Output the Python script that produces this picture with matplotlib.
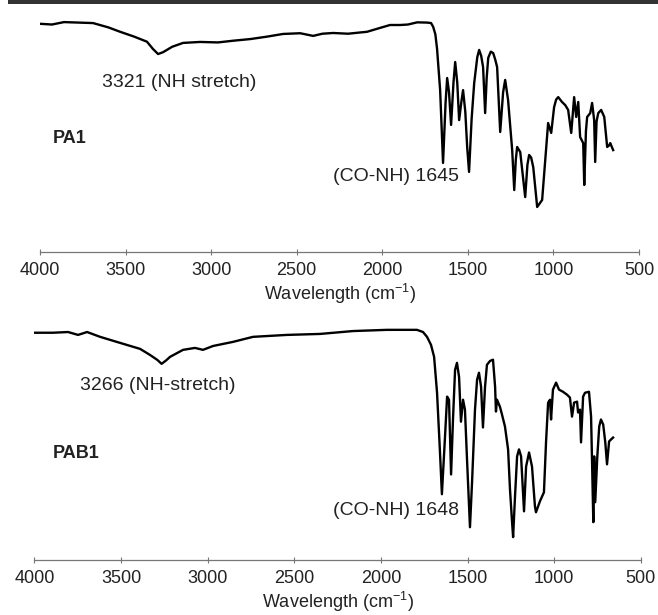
import matplotlib
matplotlib.use("Agg")
import matplotlib.pyplot as plt
from matplotlib.patches import Rectangle

plt.rcParams['font.family'] = ['Liberation Sans', 'DejaVu Sans']
plt.rcParams['mathtext.fontset'] = 'custom'
plt.rcParams['mathtext.rm'] = 'Liberation Sans'
plt.rcParams['mathtext.it'] = 'Liberation Sans:italic'

# PA1 spectrum (wavenumber, transmittance in arbitrary %)
pa1_wn = [4000, 3930, 3860, 3690, 3600, 3532, 3450, 3375, 3340, 3310, 3280, 3228,
          3164, 3065, 2960, 2872, 2770, 2673, 2580, 2480, 2404, 2350, 2287, 2200,
          2089, 2013, 1955, 1896, 1850, 1796, 1738, 1715, 1703, 1690, 1680, 1662,
          1645, 1630, 1621, 1610, 1598, 1584, 1574, 1562, 1551, 1538, 1528, 1515,
          1504, 1493, 1478, 1463, 1445, 1434, 1422, 1411, 1399, 1390, 1381, 1366,
          1352, 1340, 1329, 1311, 1294, 1282, 1265, 1241, 1229, 1220, 1212, 1194,
          1165, 1152, 1142, 1130, 1118, 1095, 1066, 1050, 1031, 1013, 996, 984, 972,
          950, 931, 914, 896, 879, 867, 855, 844, 826, 820, 810, 803, 785, 774, 762,
          756, 748, 738, 721, 703, 686, 675, 668, 651]
pa1_t = [94.3, 94.0, 95.0, 94.6, 92.8, 91.0, 89.0, 86.9, 83.9, 81.8, 82.6, 84.8,
         86.4, 86.8, 86.6, 87.3, 88.0, 89.0, 90.1, 90.4, 89.3, 90.2, 90.5, 90.2,
         91.0, 92.6, 93.8, 93.8, 94.0, 94.9, 94.8, 94.6, 93.1, 90.0, 84.0, 66.9,
         36.8, 62.0, 71.9, 66.0, 52.5, 70.0, 78.5, 70.0, 54.5, 62.0, 66.9, 58.0,
         43.4, 33.1, 55.0, 69.8, 80.5, 83.5, 81.0, 76.4, 57.4, 72.0, 80.2, 82.8,
         82.2, 79.5, 76.4, 49.6, 66.0, 71.1, 62.8, 42.1, 25.6, 38.0, 43.4, 41.3,
         22.7, 36.0, 40.1, 39.0, 35.1, 18.6, 21.5, 36.0, 53.3, 49.2, 59.9, 63.0, 64.0,
         62.0, 60.7, 58.7, 49.2, 64.0, 55.8, 62.0, 47.5, 45.0, 27.7, 50.0, 55.8, 57.4,
         61.6, 54.5, 37.2, 54.0, 57.4, 58.7, 55.8, 43.4, 44.0, 45.0, 42.1]

# PAB1 spectrum
pab1_wn = [3998, 3893, 3806, 3748, 3696, 3621, 3506, 3390, 3333, 3290, 3266, 3240,
           3217, 3142, 3073, 3027, 2969, 2854, 2738, 2542, 2352, 2161, 1965, 1890,
           1792, 1757, 1734, 1711, 1693, 1676, 1659, 1648, 1630, 1618, 1607, 1595,
           1584, 1572, 1561, 1549, 1538, 1526, 1515, 1503, 1486, 1474, 1457, 1445,
           1434, 1422, 1411, 1399, 1388, 1370, 1353, 1341, 1336, 1330, 1313, 1301,
           1284, 1266, 1255, 1243, 1237, 1226, 1214, 1203, 1191, 1174, 1162, 1145,
           1128, 1111, 1105, 1082, 1059, 1047, 1035, 1024, 1018, 1007, 989, 972, 949,
           926, 909, 897, 885, 868, 862, 851, 845, 833, 822, 799, 787, 782, 774, 769,
           763, 751, 740, 730, 717, 705, 695, 683, 672, 660]
pab1_t = [94.3, 94.3, 94.6, 93.4, 94.6, 92.6, 90.1, 87.6, 85.1, 83.0, 81.4, 82.8,
          84.3, 87.2, 88.0, 87.2, 88.8, 90.5, 92.6, 93.4, 93.8, 95.0, 95.5, 95.5,
          95.5, 94.6, 92.6, 89.3, 84.3, 69.4, 44.6, 27.3, 51.2, 67.8, 66.5, 35.5,
          58.3, 78.9, 81.8, 76.0, 57.4, 66.5, 62.4, 41.7, 13.6, 32.2, 62.4, 74.8,
          77.7, 71.9, 55.0, 71.9, 81.0, 82.6, 83.1, 71.9, 61.6, 66.5, 63.6, 60.3,
          55.4, 45.9, 29.3, 15.7, 9.5, 26.4, 43.0, 45.9, 43.0, 20.2, 38.8, 44.6,
          38.8, 22.3, 19.8, 24.4, 28.1, 48.8, 65.3, 66.5, 58.3, 70.7, 73.6, 70.7,
          69.8, 68.6, 67.4, 59.5, 65.3, 65.7, 61.2, 62.4, 48.8, 67.8, 69.4, 69.8,
          59.5, 43.0, 15.7, 43.0, 24.0, 43.0, 55.4, 58.3, 56.2, 48.8, 39.7, 49.2,
          50.0, 50.8]

ticks = [4000, 3500, 3000, 2500, 2000, 1500, 1000, 500]

fig = plt.figure(figsize=(6.58, 6.15), dpi=100)
W, H = 658, 615

# dark rule along the top edge
fig.add_artist(Rectangle((8 / W, 1 - 4 / H), 1, 4 / H, transform=fig.transFigure,
                         color='#333333', lw=0))


def panel(rect, wn, t, labels):
    ax = fig.add_axes(rect)
    ax.plot(wn, t, color='black', lw=1.7, solid_joinstyle='round')
    ax.set_xlim(4000, 500)
    ax.set_ylim(0, 100)
    for s in ['top', 'left', 'right']:
        ax.spines[s].set_visible(False)
    ax.spines['bottom'].set_color('#777777')
    ax.spines['bottom'].set_linewidth(0.9)
    ax.set_yticks([])
    ax.set_xticks(ticks)
    ax.tick_params(axis='x', direction='inout', length=4, width=0.8,
                   color='#777777', labelsize=13, labelcolor='#222222', pad=5)
    ax.set_xlabel('Wavelength (cm$^{-1}$)', fontsize=13, color='#222222', labelpad=2.5)
    for x, y, s, bold in labels:
        ax.text(x, y, s, fontsize=13 if bold else 14, color='#222222',
                fontweight='bold' if bold else 'normal', ha='left', va='center')
    return ax


panel([40 / W, 1 - 252 / H, 599 / W, 242 / H], pa1_wn, pa1_t,
      [(3638, 70.2, '3321 (NH stretch)', False),
       (3924, 47.1, 'PA1', True),
       (2287, 31.0, '(CO-NH) 1645', False)])

panel([34.4 / W, 1 - 560 / H, 606.4 / W, 241 / H], pab1_wn, pab1_t,
      [(3737, 72.5, '3266 (NH-stretch)', False),
       (3893, 44.3, 'PAB1', True),
       (2276, 20.7, '(CO-NH) 1648', False)])

fig.savefig('out.png', dpi=100)
